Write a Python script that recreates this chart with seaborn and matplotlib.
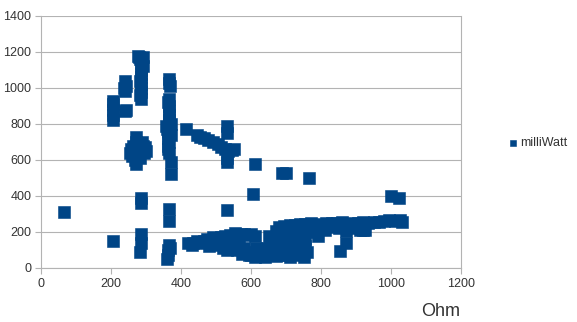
import matplotlib
matplotlib.use("Agg")
import matplotlib.pyplot as plt
import seaborn as sns
import pandas as pd

ohm = [
    65, 205, 205, 205, 207, 205, 207,
    240, 240, 242, 240, 242, 238,
    255, 260, 265, 268, 270, 272, 275, 278, 280, 285, 290, 295, 300, 270, 262,
    258, 264, 276, 282, 292, 298, 268, 288,
    285, 285, 287, 285, 287, 285, 282, 290, 278, 288, 285, 287, 285, 285, 283,
    286, 284, 286, 292, 280, 288, 284,
    365, 368, 365, 367, 365, 366, 363, 362, 364, 366, 365, 370, 372,
    365, 365, 366, 364, 362, 360, 368,
    366, 364, 367, 358, 360, 372, 368, 370, 364, 366, 362,
    415, 445, 455, 465, 478, 490, 505, 515, 525, 535, 545, 552,
    530, 532, 530, 531,
    610, 605, 688, 700, 765, 530, 530,
    420, 435, 450, 465, 480, 495, 505, 515, 525, 540, 555, 570, 585, 600, 610,
    430, 445, 460, 475, 490, 510, 530, 550, 565, 580,
    480, 500, 520, 545, 560, 575, 590, 600, 615, 630,
    580, 595, 610, 625, 635,
    640, 650, 660, 670, 680, 690, 700, 710, 720, 730, 740, 750, 760,
    645, 655, 665, 675, 685, 695, 705, 715, 725, 735, 745, 755,
    650, 660, 675, 690, 705, 720, 735, 750,
    665, 680, 695, 710, 725, 740, 755,
    670, 685, 700, 715, 730, 745, 760, 775, 790,
    680, 695, 710, 725, 740, 755, 770, 785, 800, 815, 830, 845, 860, 875, 890,
    905, 920, 935, 950, 965, 980, 995, 1010, 1025, 1032,
    760, 775, 790, 810, 830, 850, 870, 890, 910, 925,
    780, 800, 820, 840,
    870, 855, 920, 1000, 1022, 700, 720,
]
milliwatt = [
    310, 150, 820, 850, 880, 910, 930,
    870, 985, 1010, 1040, 880, 1000,
    640, 620, 660, 600, 700, 730, 650, 680, 640, 670, 660, 640, 650, 580, 680,
    660, 640, 620, 610, 680, 670, 630, 700,
    940, 980, 1020, 1060, 1100, 1140, 1160, 1170, 1180, 1150, 390, 360, 190, 140, 90,
    1000, 1040, 1080, 1120, 1175, 1130, 960,
    1050, 1010, 940, 900, 850, 800, 760, 720, 680, 640, 700, 590, 525,
    330, 260, 130, 100, 70, 50, 110,
    1030, 920, 870, 790, 770, 800, 780, 740, 660, 820, 750,
    770, 740, 730, 720, 710, 700, 690, 675, 660, 650, 655, 660,
    790, 750, 590, 610,
    580, 410, 530, 530, 500, 320, 100,
    140, 140, 145, 150, 150, 160, 165, 175, 180, 185, 195, 190, 185, 190, 180,
    130, 150, 140, 160, 170, 150, 170, 160, 175, 190,
    120, 130, 110, 125, 100, 80, 90, 70, 110, 80,
    110, 70, 60, 100, 70,
    60, 70, 80, 65, 90, 70, 75, 60, 80, 70, 85, 60, 90,
    110, 130, 150, 120, 140, 110, 150, 130, 120, 140, 150, 160,
    180, 170, 200, 190, 180, 200, 190, 180,
    90, 100, 110, 95, 105, 100, 120,
    205, 215, 210, 220, 215, 220, 225, 220, 230,
    230, 235, 240, 240, 245, 245, 250, 240, 245, 250, 248, 250, 255, 245, 250,
    250, 255, 250, 255, 258, 260, 265, 262, 265, 258,
    215, 200, 180, 210, 230, 220, 205, 220, 210, 210,
    230, 225, 235, 240,
    140, 95, 210, 400, 390, 160, 100,
]

df = pd.DataFrame({"Ohm": ohm, "milliWatt": milliwatt})

sns.set_theme(style="white")
plt.rcParams["font.family"] = ["Liberation Sans", "DejaVu Sans"]

fig = plt.figure(figsize=(5.77, 3.22), dpi=100)
ax = fig.add_axes([41 / 577, 54 / 322, 420 / 577, 252 / 322])

sns.scatterplot(data=df, x="Ohm", y="milliWatt", ax=ax, marker="s", s=70,
                color="#004586", edgecolor="#004586", linewidth=0.4,
                label="milliWatt", zorder=3)

ax.set_xlim(0, 1200)
ax.set_ylim(0, 1400)
ax.set_xticks([0, 200, 400, 600, 800, 1000, 1200])
ax.set_yticks([0, 200, 400, 600, 800, 1000, 1200, 1400])
ax.yaxis.grid(True, color="#b3b3b3", linewidth=0.8)
ax.xaxis.grid(False)
for side in ["left", "bottom", "right", "top"]:
    ax.spines[side].set_color("#b3b3b3")
    ax.spines[side].set_linewidth(0.8)
ax.spines["top"].set_visible(False)
ax.tick_params(axis="both", which="both", labelsize=9, labelcolor="#333333",
               color="#b3b3b3", length=4, width=0.8, direction="out",
               bottom=True, left=True, pad=3)
ax.set_xlabel("")
ax.set_ylabel("")
fig.text(460 / 577, 1 - 311 / 322, "Ohm", ha="right", va="center",
         fontsize=13, color="#333333")

leg = ax.legend(loc="center left", bbox_to_anchor=(500 / 577, 1 - 143 / 322),
                bbox_transform=fig.transFigure, frameon=False, fontsize=9,
                handletextpad=0.1, borderpad=0, handlelength=1,
                markerscale=0.6)
for t in leg.get_texts():
    t.set_color("#333333")

fig.savefig("out.png", dpi=100)
